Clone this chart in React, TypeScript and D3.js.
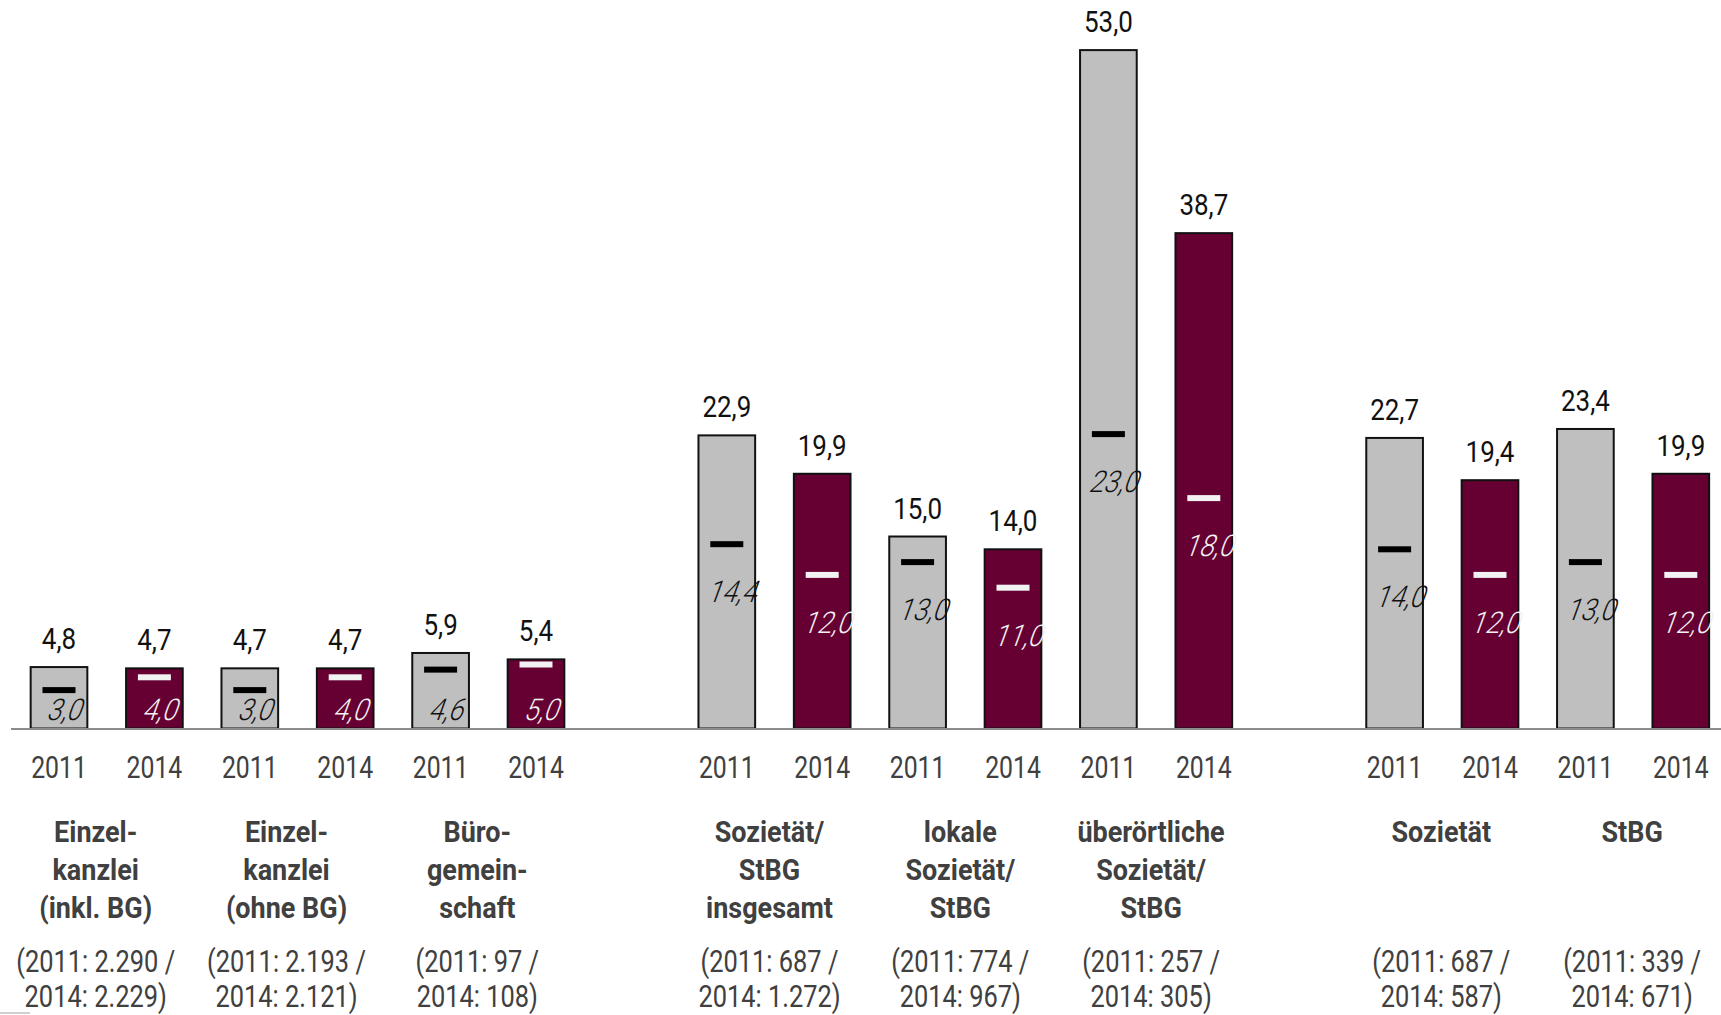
import React from "react";
import * as d3 from "d3";

// ---------- data ----------
const categories: string[][] = [
  ["Einzel-", "kanzlei", "(inkl. BG)"],
  ["Einzel-", "kanzlei", "(ohne BG)"],
  ["Büro-", "gemein-", "schaft"],
  ["Sozietät/", "StBG", "insgesamt"],
  ["lokale", "Sozietät/", "StBG"],
  ["überörtliche", "Sozietät/", "StBG"],
  ["Sozietät"],
  ["StBG"],
];
const counts: string[][] = [
  ["(2011: 2.290 /", "2014: 2.229)"],
  ["(2011: 2.193 /", "2014: 2.121)"],
  ["(2011: 97 /", "2014: 108)"],
  ["(2011: 687 /", "2014: 1.272)"],
  ["(2011: 774 /", "2014: 967)"],
  ["(2011: 257 /", "2014: 305)"],
  ["(2011: 687 /", "2014: 587)"],
  ["(2011: 339 /", "2014: 671)"],
];
const sections: number[] = [0, 0, 0, 1, 1, 1, 2, 2];
const years: string[] = ["2011", "2014"];
const mean2011: number[] = [4.8, 4.7, 5.9, 22.9, 15.0, 53.0, 22.7, 23.4];
const mean2014: number[] = [4.7, 4.7, 5.4, 19.9, 14.0, 38.7, 19.4, 19.9];
const median2011: number[] = [3.0, 3.0, 4.6, 14.4, 13.0, 23.0, 14.0, 13.0];
const median2014: number[] = [4.0, 4.0, 5.0, 12.0, 11.0, 18.0, 12.0, 12.0];

// ---------- layout ----------
const W = 1721;
const H = 1015;
const BASE = 728.5;
const SLOTS = 18;
const sectionNudge = [-11, -5, -1];
const fill = ["#bfbfbf", "#660033"];
const markerFill = ["#000000", "#f2f2f2"];
const medianText = ["#111111", "#f2f2f2"];
const FONT = "Roboto, 'Liberation Sans', sans-serif";

const fmt = (v: number) => d3.format(".1f")(v).replace(".", ",");

export default function App() {
  const x = d3
    .scaleBand<number>()
    .domain(d3.range(SLOTS))
    .range([11.3, 11.3 + 95.4 * SLOTS])
    .paddingInner(0.406)
    .paddingOuter(0.203);
  const y = d3.scaleLinear().domain([0, 55]).range([BASE, BASE - 55 * 12.8]);
  const bw = x.bandwidth();

  type Bar = { slot: number; yr: number; mean: number; median: number };
  const bars: Bar[] = [];
  categories.forEach((_, i) => {
    const s0 = i * 2 + sections[i];
    bars.push({ slot: s0, yr: 0, mean: mean2011[i], median: median2011[i] });
    bars.push({ slot: s0 + 1, yr: 1, mean: mean2014[i], median: median2014[i] });
  });

  const cx = (slot: number) => (x(slot) as number) + bw / 2;

  return (
    <div style={{ position: "absolute", left: 0, top: 0 }}>
      <svg width={W} height={H} style={{ display: "block", background: "#fff" }} fontFamily={FONT}>
        <rect x={0} y={0} width={W} height={H} fill="#fff" />
        {bars.map((b, k) => {
          const c = cx(b.slot);
          const top = y(b.mean);
          const my = y(b.median);
          const ly = Math.min(my + 58, BASE - 8.5);
          return (
            <g key={k}>
              <rect
                x={x(b.slot)}
                y={top}
                width={bw}
                height={BASE - top}
                fill={fill[b.yr]}
                stroke="#111"
                strokeWidth={2}
              />
              <rect x={c - 16.5} y={my - 3} width={33} height={6} fill={markerFill[b.yr]} />
              <text
                transform={`translate(${c + 4},${ly}) skewX(-20) scale(0.88,1)`}
                textAnchor="middle"
                fontSize={30}
                fontWeight={300}
                fill={medianText[b.yr]}
              >
                {fmt(b.median)}
              </text>
              <text
                transform={`translate(${c},${top - 18}) scale(0.88,1)`}
                textAnchor="middle"
                fontSize={29.5}
                fill="#111"
              >
                {fmt(b.mean)}
              </text>
              <text
                transform={`translate(${c},${777.7}) scale(0.8,1)`}
                textAnchor="middle"
                fontSize={31}
                fill="#404040"
              >
                {years[b.yr]}
              </text>
            </g>
          );
        })}
        <line x1={11} x2={W} y1={BASE + 0.5} y2={BASE + 0.5} stroke="#8c8c8c" strokeWidth={2} />
        <line x1={0} x2={30} y1={1013} y2={1013} stroke="#d0d0d0" strokeWidth={2} />
        {categories.map((lines, i) => {
          const s0 = i * 2 + sections[i];
          const mx = (cx(s0) + cx(s0 + 1)) / 2 + sectionNudge[sections[i]];
          return (
            <g key={"c" + i}>
              {lines.map((t, j) => (
                <text
                  key={j}
                  transform={`translate(${mx},${841.7 + j * 38.3}) scale(0.93,1)`}
                  textAnchor="middle"
                  fontSize={29}
                  fontWeight={700}
                  fill="#404040"
                >
                  {t}
                </text>
              ))}
              {counts[i].map((t, j) => (
                <text
                  key={"n" + j}
                  transform={`translate(${mx},${972 + j * 35}) scale(0.82,1)`}
                  textAnchor="middle"
                  fontSize={31}
                  fill="#404040"
                >
                  {t}
                </text>
              ))}
            </g>
          );
        })}
      </svg>
    </div>
  );
}
